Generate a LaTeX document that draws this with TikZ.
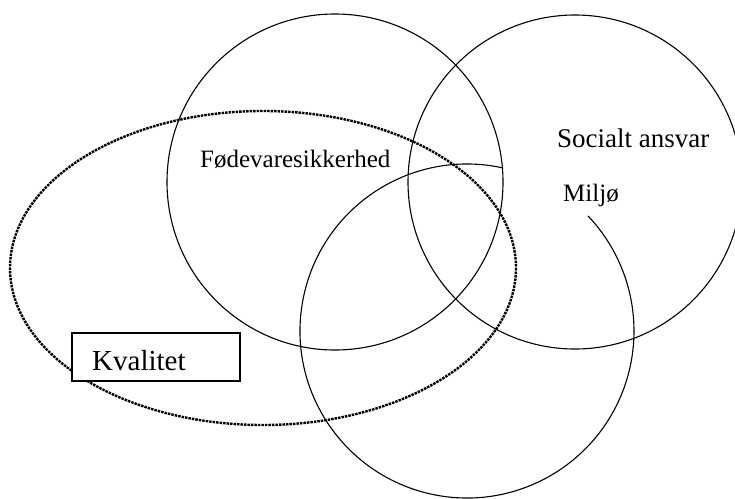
\documentclass[tikz,border=0pt]{standalone}
\usepackage{fontspec}
\setmainfont{Liberation Serif}
\begin{document}
\begin{tikzpicture}[x=1pt,y=-1pt,
  ring/.style={draw=black, line width=1.1pt},
  dotring/.style={draw=black, line width=2.4pt, dash pattern=on 2.5pt off 1pt},
  lbl/.style={inner sep=0pt, anchor=base west, font=\fontsize{25}{27}\selectfont},
  kbox/.style={draw=black, fill=white, line width=1.3pt, minimum width=168pt, minimum height=48pt, inner sep=0pt}]
\useasboundingbox (0,0) rectangle (735,498);
% ellipse (Kvalitet)
\draw[dotring] (263,268) ellipse [x radius=253, y radius=157];
% circles
\draw[ring] (335,182) circle [radius=168];
\draw[ring] (575,182) circle [radius=167];
\draw[ring] (467,331) ++(-77.5:167) arc[start angle=-77.5, end angle=-403.5, radius=167];
% labels
\node[lbl] (food) at (200,167) {Fødevaresikkerhed};
\node[lbl, font=\fontsize{27}{29}\selectfont] (soc) at (557,147) {Socialt ansvar};
\node[lbl] (mil) at (563,201) {Miljø};
\node[kbox] (kval) at (156,357) {};
\node[inner sep=0pt, anchor=base west, font=\fontsize{29}{31}\selectfont] (kvt) at (92,370) {Kvalitet};
\end{tikzpicture}
\end{document}
